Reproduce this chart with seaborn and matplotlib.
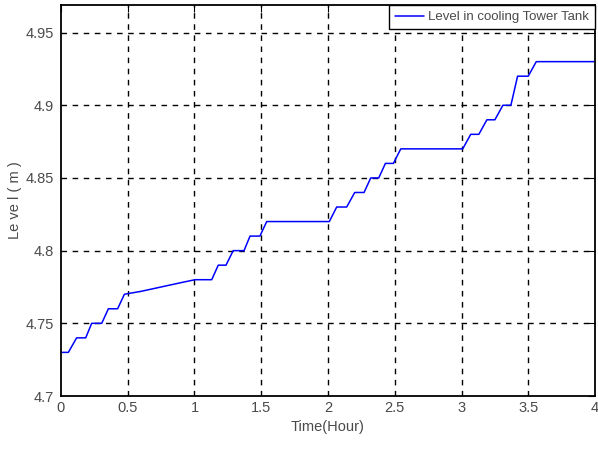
import matplotlib
matplotlib.use("Agg")
import matplotlib.pyplot as plt
import seaborn as sns
import pandas as pd
from matplotlib import font_manager

time_hr = [0.0, 0.055, 0.117, 0.185, 0.23, 0.305, 0.355, 0.424, 0.475,
           0.6, 0.75, 0.9, 1.004, 1.129, 1.178, 1.236, 1.29, 1.371, 1.416,
           1.49, 1.541, 2.01, 2.065, 2.14, 2.2, 2.27, 2.32, 2.38, 2.43,
           2.49, 2.545, 3.009, 3.069, 3.13, 3.19, 3.25, 3.31, 3.37, 3.42,
           3.5, 3.56, 4.0]
level_m = [4.73, 4.73, 4.74, 4.74, 4.75, 4.75, 4.76, 4.76, 4.77,
           4.772, 4.775, 4.778, 4.78, 4.78, 4.79, 4.79, 4.80, 4.80, 4.81,
           4.81, 4.82, 4.82, 4.83, 4.83, 4.84, 4.84, 4.85, 4.85, 4.86,
           4.86, 4.87, 4.87, 4.88, 4.88, 4.89, 4.89, 4.90, 4.90, 4.92,
           4.92, 4.93, 4.93]
x_ticks = [0, 0.5, 1, 1.5, 2, 2.5, 3, 3.5, 4]
x_tick_labels = ["0", "0.5", "1", "1.5", "2", "2.5", "3", "3.5", "4"]
y_ticks = [4.7, 4.75, 4.8, 4.85, 4.9, 4.95]
y_tick_labels = ["4.7", "4.75", "4.8", "4.85", "4.9", "4.95"]
series_name = "Level in cooling Tower Tank"

sns.set_theme(style="white")
names = {f.name for f in font_manager.fontManager.ttflist}
fam = "Liberation Sans Narrow" if "Liberation Sans Narrow" in names else "Liberation Sans"
plt.rcParams["font.family"] = [fam, "DejaVu Sans"]

df = pd.DataFrame({"Time": time_hr, "Level": level_m, "series": series_name})

fig = plt.figure(figsize=(5.98, 4.5), dpi=100)
ax = fig.add_axes([0.102, 0.12, 0.893, 0.869])
ax.set_axisbelow(True)
sns.lineplot(data=df, x="Time", y="Level", hue="series", palette=["#0000ff"],
             estimator=None, sort=False, linewidth=1.1, ax=ax)

ax.set_xlim(0, 4)
ax.set_ylim(4.7, 4.969)
ax.set_xticks(x_ticks)
ax.set_xticklabels(x_tick_labels)
ax.set_yticks(y_ticks)
ax.set_yticklabels(y_tick_labels)
ax.grid(True, color="black", linestyle=(0, (4, 4)), linewidth=1.0)
ax.tick_params(direction="in", length=5, width=0.8, color="black",
               top=True, right=True, labelsize=10.5, labelcolor="#4a4a4a")
ax.tick_params(axis="y", pad=5)
for s in ax.spines.values():
    s.set_visible(True)
    s.set_color("black")
    s.set_linewidth(1.3)
    s.set_zorder(3)
ax.set_xlabel("Time(Hour)", fontsize=10.5, color="#4a4a4a", labelpad=4)
ax.set_ylabel("Le ve l ( m )", fontsize=10.5, color="#4a4a4a", labelpad=3)

fig.canvas.draw()
xg = ax.get_xgridlines()
xg[0].set_visible(False)
xg[-1].set_visible(False)
ax.get_ygridlines()[0].set_visible(False)

leg = ax.legend(loc="upper right", frameon=True, fancybox=False, fontsize=9.5,
                handlelength=2.2, borderaxespad=0.0, handletextpad=0.3,
                borderpad=0.45)
leg.get_frame().set_edgecolor("black")
leg.get_frame().set_linewidth(1.0)
leg.get_frame().set_alpha(1)
for t in leg.get_texts():
    t.set_color("#4a4a4a")

fig.savefig("out.png", dpi=100)
